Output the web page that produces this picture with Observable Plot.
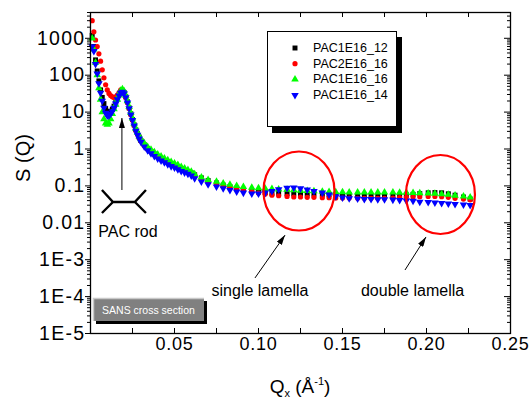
<!DOCTYPE html>
<html><head><meta charset="utf-8">
<script src="https://cdn.jsdelivr.net/npm/d3@7"></script>
<script src="https://cdn.jsdelivr.net/npm/@observablehq/plot@0.6"></script>
<style>
body{margin:0;background:#fff;}
#chart{width:531px;height:400px;}
</style></head><body><div id="chart"></div>
<script>
// ---- data ----
const seriesNames = ["PAC1E16_12", "PAC2E16_16", "PAC1E16_16", "PAC1E16_14"];
const seriesColors = ["#000000", "#ff0000", "#00ff00", "#0000ff"];

const q = [
  0.001,0.002,0.003,0.004,0.005,0.006,0.007,0.008,0.009,0.010,
  0.011,0.012,0.013,0.014,0.015,0.016,0.017,0.018,0.019,0.020,
  0.021,0.022,0.023,0.024,0.025,0.026,0.027,0.028,0.029,0.030,
  0.032,0.034,0.036,0.038,0.040,0.042,0.044,0.046,0.048,0.050,0.052,0.054,0.056,0.058,0.060,
  0.062,0.066,0.070,0.075,0.079,0.083,0.087,0.091,0.096,0.100,
  0.104,0.108,0.112,0.117,0.121,0.125,0.129,0.133,0.138,0.142,
  0.146,0.150,0.154,0.159,0.163,0.167,0.171,0.175,0.180,0.184,
  0.188,0.192,0.196,0.201,0.205,0.209,0.213,0.217,0.222,0.226
];
const sPAC1E16_12 = [
  1200,600,260,130,70,40,25,17,12.5,10.5,
  10,10.5,12,14.5,18,23,29,35,38,34,
  26,19,13,9,6.3,4.5,3.3,2.6,2.1,1.7,
  1.3,1.02,0.86,0.73,0.63,0.55,0.49,0.44,0.40,0.36,0.32,0.29,0.265,0.245,0.225,
  0.2,0.165,0.14,0.12,0.105,0.095,0.087,0.08,0.073,0.069,
  0.066,0.064,0.063,0.062,0.061,0.061,0.06,0.06,0.059,0.058,
  0.058,0.057,0.057,0.056,0.056,0.055,0.055,0.055,0.055,0.056,
  0.057,0.059,0.062,0.065,0.066,0.065,0.061,0.056,0.05,0.044
];
const sPAC2E16_16 = [
  3000,1500,900,600,380,240,140,85,55,40,
  32,28,26,25,26,29,34,40,40,33,
  25,18,12.5,8.5,6,4.3,3.2,2.5,2.0,1.65,
  1.25,1.0,0.85,0.72,0.62,0.54,0.48,0.43,0.39,0.35,0.32,0.29,0.26,0.24,0.22,
  0.19,0.16,0.13,0.115,0.1,0.092,0.085,0.078,0.07,0.064,
  0.06,0.056,0.054,0.052,0.05,0.05,0.049,0.049,0.048,0.048,
  0.047,0.047,0.047,0.046,0.046,0.046,0.046,0.046,0.047,0.048,
  0.049,0.05,0.051,0.052,0.052,0.051,0.049,0.046,0.044,0.042
];
const sPAC1E16_16 = [
  1000,500,220,100,45,22,10,6.5,5,4.6,
  5,6.5,9,12,16,22,30,38,42,37,
  28,20,14,9.5,6.8,4.9,3.6,2.8,2.2,1.85,
  1.45,1.15,0.97,0.83,0.72,0.63,0.56,0.5,0.45,0.41,0.37,0.33,0.3,0.27,0.245,
  0.21,0.17,0.145,0.13,0.118,0.108,0.1,0.094,0.09,0.087,
  0.085,0.083,0.081,0.079,0.077,0.075,0.073,0.072,0.07,0.069,
  0.068,0.068,0.067,0.067,0.067,0.067,0.067,0.067,0.067,0.066,
  0.066,0.065,0.064,0.063,0.062,0.06,0.058,0.055,0.052,0.049
];
const sPAC1E16_14 = [
  600,450,200,110,60,33,20,13,9.5,8,
  8,9,10.5,13,17,22,28,33,35,32,
  25,18,12.5,8.5,6,4.3,3.1,2.4,1.9,1.55,
  1.15,0.92,0.76,0.64,0.55,0.48,0.43,0.38,0.34,0.31,0.28,0.25,0.23,0.21,0.19,
  0.16,0.13,0.11,0.095,0.085,0.077,0.07,0.065,0.062,0.062,
  0.065,0.072,0.08,0.088,0.09,0.086,0.079,0.072,0.065,0.058,
  0.052,0.048,0.046,0.045,0.044,0.044,0.043,0.043,0.042,0.041,
  0.04,0.039,0.037,0.036,0.035,0.034,0.033,0.032,0.031,0.03
];
const seriesValues = [sPAC1E16_12, sPAC2E16_16, sPAC1E16_16, sPAC1E16_14];

const yMajor = [1000, 100, 10, 1, 0.1, 0.01, 0.001, 0.0001, 0.00001];
const yLabels = ["1000", "100", "10", "1", "0.1", "0.01", "1E-3", "1E-4", "1E-5"];
const xTickVals = [0.025, 0.05, 0.075, 0.10, 0.125, 0.15, 0.175, 0.20, 0.225];
const xLabelVals = [0.05, 0.10, 0.15, 0.20, 0.25];
const xLabels = ["0.05", "0.10", "0.15", "0.20", "0.25"];

// ---- build ----
const rows = [];
seriesNames.forEach((name, i) => seriesValues[i].forEach((v, j) => rows.push({q: q[j], s: v, series: name})));

const yMinor = [];
yMajor.forEach(m => { if (m < 1000) for (let k = 2; k <= 9; k++) yMinor.push(m * k); });
[2000, 3000, 4000, 5000].forEach(v => yMinor.push(v));
const yLabelMap = new Map(yMajor.map((v, i) => [v, yLabels[i]]));
const xLabelMap = new Map(xLabelVals.map((v, i) => [v, xLabels[i]]));

const triangleDown = {
  draw(ctx, size) {
    const y = Math.sqrt(size / (3 * Math.sqrt(3)));
    const s3 = Math.sqrt(3);
    ctx.moveTo(0, 2 * y);
    ctx.lineTo(-s3 * y, -y);
    ctx.lineTo(s3 * y, -y);
    ctx.closePath();
  }
};
const symbols = ["square", "circle", "triangle", triangleDown];
const radii = [2.8, 2.6, 2.8, 2.8];

const FW = 420, FH = 321; // frame size in px
const font = "'Liberation Sans', Arial, sans-serif";

const plot = Plot.plot({
  width: 531, height: 400,
  marginLeft: 90, marginRight: 21, marginTop: 12, marginBottom: 67,
  style: {fontFamily: font, fontSize: "18px", color: "black", background: "white", overflow: "visible"},
  x: {domain: [0, 0.25], axis: null},
  y: {type: "log", domain: [1e-5, 5000], axis: null},
  marks: [
    ...seriesNames.map((name, i) => Plot.dot(rows.filter(d => d.series === name), {
      x: "q", y: "s", symbol: symbols[i], r: radii[i], fill: seriesColors[i], stroke: "none"
    })),
    // inward ticks: right, top, bottom
    Plot.tickY(yMajor, {y: d => d, insetLeft: FW - 6, stroke: "black"}),
    Plot.tickY(yMinor, {y: d => d, insetLeft: FW - 3, stroke: "black"}),
    Plot.tickX(xTickVals, {x: d => d, insetBottom: FH - 5, stroke: "black"}),
    Plot.tickX(xTickVals, {x: d => d, insetTop: FH - 5, stroke: "black"}),
    // left axis (outward)
    Plot.axisY({ticks: yMajor, tickFormat: d => yLabelMap.get(d), tickSize: 5, tickPadding: 0, anchor: "left", label: null, fontSize: 19.5}),
    Plot.axisY({ticks: yMinor, tickFormat: () => "", tickSize: 3, anchor: "left", label: null}),
    // bottom labels
    Plot.axisX({ticks: xLabelVals, tickFormat: d => xLabelMap.get(d), tickSize: 0, tickPadding: 4, anchor: "bottom", label: null, fontSize: 18}),
    Plot.frame({stroke: "black", strokeWidth: 1.3})
  ]
});

document.getElementById("chart").appendChild(plot);

// ---- annotations ----
const svg = d3.select(plot);
svg.selectAll("g[aria-label='y-axis tick label']").style("letter-spacing", "1.3px");
svg.selectAll("g[aria-label='x-axis tick label']").style("letter-spacing", "0.8px");
const X = plot.scale("x"), Y = plot.scale("y");
const px = (qq, ss) => [X.apply(qq), Y.apply(ss)];

const defs = svg.append("defs");
defs.append("marker").attr("id", "ah").attr("viewBox", "0 0 10 6").attr("refX", 10).attr("refY", 3)
  .attr("markerWidth", 10).attr("markerHeight", 6).attr("markerUnits", "userSpaceOnUse").attr("orient", "auto")
  .append("path").attr("d", "M0,0L10,3L0,6z").attr("fill", "black");

// circles marking lamella peaks
const rings = [
  {c: [0.1244, 0.0705], rx: 35.5, ry: 39.5},
  {c: [0.2086, 0.0566], rx: 34.5, ry: 39.5}
];
rings.forEach(r => {
  const [cx, cy] = px(...r.c);
  svg.append("ellipse").attr("cx", cx).attr("cy", cy).attr("rx", r.rx).attr("ry", r.ry)
    .attr("fill", "none").attr("stroke", "#ff0000").attr("stroke-width", 2.2);
});

// arrows
const arrows = [
  {from: [0.0982, 3.1e-4], to: [0.1161, 4.5e-3]},
  {from: [0.1875, 5.1e-4], to: [0.2000, 4.0e-3]},
  {from: [0.0190, 0.075], to: [0.0190, 6.7]}
];
arrows.forEach(a => {
  const [x1, y1] = px(...a.from), [x2, y2] = px(...a.to);
  svg.append("line").attr("x1", x1).attr("y1", y1).attr("x2", x2).attr("y2", y2)
    .attr("stroke", "black").attr("stroke-width", 1).attr("marker-end", "url(#ah)");
});

// texts
const notes = [
  {p: [0.1012, 1.46e-4], t: "single lamella"},
  {p: [0.1920, 1.46e-4], t: "double lamella"},
  {p: [0.0226, 5.8e-3], t: "PAC rod"}
];
notes.forEach(n => {
  const [x, y] = px(...n.p);
  svg.append("text").attr("x", x).attr("y", y).attr("text-anchor", "middle").attr("dominant-baseline", "central")
    .attr("font-family", font).attr("font-size", 16).attr("fill", "black").text(n.t);
});

// rod pictogram
{
  const [cx, cy] = px(0.0202, 0.0355);
  const p = `M${cx-11},${cy}L${cx+11},${cy}M${cx-22},${cy-12}L${cx-11},${cy}L${cx-22},${cy+11}M${cx+22},${cy-12}L${cx+11},${cy}L${cx+22},${cy+11}`;
  svg.append("path").attr("d", p).attr("fill", "none").attr("stroke", "black").attr("stroke-width", 2.4);
}

// SANS cross section box
{
  const g = svg.append("g");
  g.append("rect").attr("x", 96).attr("y", 301).attr("width", 111).attr("height", 23).attr("fill", "black");
  g.append("rect").attr("x", 93).attr("y", 298).attr("width", 111).attr("height", 23).attr("fill", "#808080");
  g.append("path").attr("d", "M93.5,321V298.5H204").attr("fill", "none").attr("stroke", "#c8c8c8").attr("stroke-width", 1.5);
  g.append("text").attr("x", 148.5).attr("y", 310).attr("text-anchor", "middle").attr("dominant-baseline", "central")
    .attr("font-family", font).attr("font-size", 10.5).attr("fill", "white").text("SANS cross section");
}

// legend
{
  const g = svg.append("g");
  g.append("rect").attr("x", 272).attr("y", 37).attr("width", 130).attr("height", 96).attr("fill", "black");
  g.append("rect").attr("x", 267.5).attr("y", 31.5).attr("width", 129).attr("height", 95).attr("fill", "white").attr("stroke", "black").attr("stroke-width", 1);
  const d3sym = [d3.symbolSquare, d3.symbolCircle, d3.symbolTriangle, triangleDown];
  seriesNames.forEach((name, i) => {
    const y = 48 + i * 15.7;
    g.append("path").attr("transform", `translate(295,${y})`)
      .attr("d", d3.symbol(d3sym[i], Math.PI * radii[i] * radii[i])()).attr("fill", seriesColors[i]);
    g.append("text").attr("x", 313).attr("y", y).attr("text-anchor", "start").attr("dominant-baseline", "central")
      .attr("font-family", font).attr("font-size", 12.5).attr("fill", "black").text(name);
  });
}

// axis titles
svg.append("text").attr("transform", "translate(23,158) rotate(-90)").attr("text-anchor", "middle")
  .attr("dominant-baseline", "central").attr("font-family", font).attr("font-size", 20).attr("fill", "black").text("S (Q)");
{
  const t = svg.append("text").attr("x", 300).attr("y", 393).attr("text-anchor", "middle")
    .attr("font-family", font).attr("font-size", 19).attr("fill", "black");
  t.append("tspan").text("Q");
  t.append("tspan").attr("font-size", 11).attr("dy", 4).text("x");
  t.append("tspan").attr("dy", -4).text(" (Å");
  t.append("tspan").attr("font-size", 11).attr("dy", -8).text("-1");
  t.append("tspan").attr("dy", 8).text(")");
}
</script></body></html>
